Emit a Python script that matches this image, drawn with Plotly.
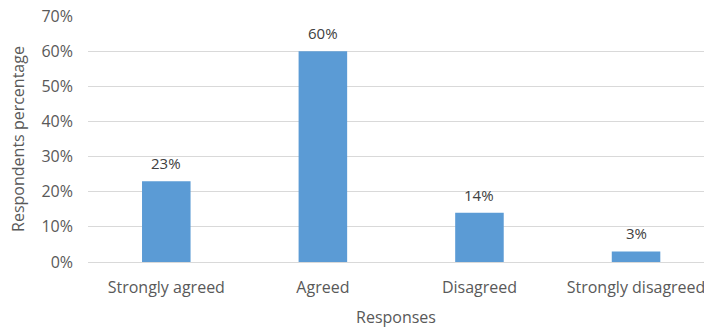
import plotly.graph_objects as go

categories = ["Strongly agreed", "Agreed", "Disagreed", "Strongly disagreed"]
values = [23, 60, 14, 3]
value_labels = ["23%", "60%", "14%", "3%"]
tick_vals = [0, 10, 20, 30, 40, 50, 60, 70]
tick_text = ["0%", "10%", "20%", "30%", "40%", "50%", "60%", "70%"]

FONT = "Open Sans, Carlito, Calibri, sans-serif"
GRAY = "#595959"

fig = go.Figure()
fig.add_trace(go.Bar(
    x=list(range(len(categories))), y=values,
    marker=dict(color="#5B9BD5", line=dict(width=0)),
    width=0.31,
    hoverinfo="skip",
))
for i, (v, t) in enumerate(zip(values, value_labels)):
    fig.add_annotation(x=i, y=v, text=t, showarrow=False, yanchor="bottom",
                       yshift=6, font=dict(family=FONT, size=15, color="#404040"))

fig.update_layout(
    width=704, height=328,
    margin=dict(l=88, r=0, t=16, b=66),
    paper_bgcolor="white", plot_bgcolor="white",
    showlegend=False,
    font=dict(family=FONT, size=16, color=GRAY),
    xaxis=dict(
        range=[-0.5, 3.434],
        tickvals=list(range(len(categories))), ticktext=categories,
        showgrid=False, zeroline=False, showline=False, ticks="",
        ticklabelstandoff=14,
        ticklabeloverflow="allow",
        tickfont=dict(family=FONT, size=16, color=GRAY),
        title=dict(text="Responses", font=dict(family=FONT, size=16, color=GRAY), standoff=18),
    ),
    yaxis=dict(
        range=[0, 70],
        tickvals=tick_vals, ticktext=tick_text,
        showgrid=True, gridcolor="#d9d9d9", gridwidth=1,
        zeroline=True, zerolinecolor="#d9d9d9", zerolinewidth=1,
        showline=False, ticks="",
        ticklabelstandoff=14,
        tickfont=dict(family=FONT, size=16, color=GRAY),
        title=dict(text="Respondents percentage", font=dict(family=FONT, size=16, color=GRAY), standoff=12),
    ),
)

fig.write_html("out.html")
